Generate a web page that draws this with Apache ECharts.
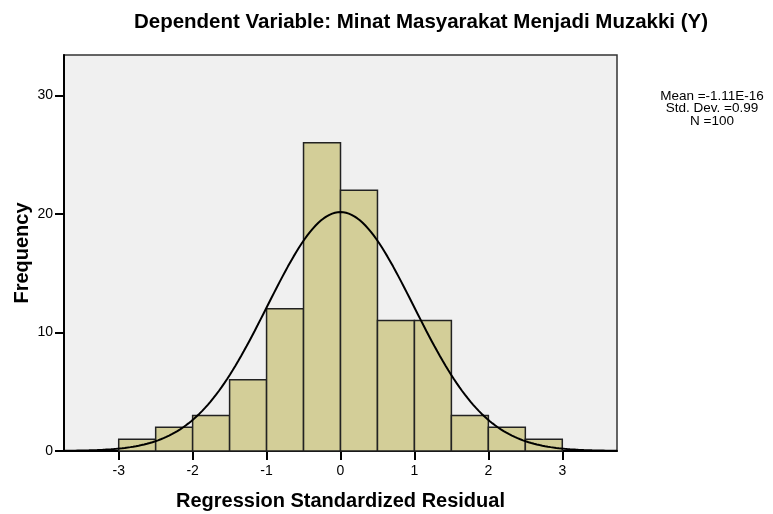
<!DOCTYPE html>
<html lang="en">
<head>
    <meta charset="UTF-8">
    <title>Histogram</title>
</head>
<body style="margin:0;background:#fff;">
    <div id="main" style="width:773px;height:514px;"></div>
    <script src="https://cdn.jsdelivr.net/npm/echarts@6/dist/echarts.min.js"></script>
    <script>
        // bins of the standardized residual (lower edges) and their counts
        var binStart = [-3, -2.5, -2, -1.5, -1, -0.5, 0, 0.5, 1, 1.5, 2, 2.5];
        var binWidth = 0.5;
        var counts = [1, 2, 3, 6, 12, 26, 22, 11, 11, 3, 2, 1];
        var xTicks = [-3, -2, -1, 0, 1, 2, 3];
        var yTicks = [0, 10, 20, 30];
        // summary shown beside the chart
        var statMean = -1.11e-16;
        var statSd = 0.99;
        var statN = 100;
        var xMin = -3.74, xMax = 3.74;

        var barData = [];
        for (var i = 0; i < binStart.length; i++) {
            barData.push([binStart[i], binStart[i] + binWidth, counts[i]]);
        }

        // fitted normal curve from mean / sd / N
        var curve = [];
        for (var k = 0; k <= 200; k++) {
            var x = xMin + (xMax - xMin) * k / 200;
            var z = (x - statMean) / statSd;
            var y = statN * binWidth * Math.exp(-0.5 * z * z) / (statSd * Math.sqrt(2 * Math.PI));
            curve.push([x, y]);
        }

        var myChart = echarts.init(document.getElementById('main'));
        var font = '"Liberation Sans", Arial, sans-serif';
        var option = {
            animation: false,
            textStyle: { fontFamily: font },
            title: [{
                text: 'Dependent Variable: Minat Masyarakat Menjadi Muzakki (Y)',
                left: 416,
                top: 7,
                textAlign: 'center',
                textStyle: { fontSize: 20.5, fontWeight: 'bold', color: '#000', fontFamily: font }
            }, {
                text: 'Mean =-1.11E-16\nStd. Dev. =0.99\nN =100',
                left: 707,
                top: 85,
                textAlign: 'center',
                textStyle: { fontSize: 13.5, fontWeight: 'normal', color: '#000', lineHeight: 12.5, fontFamily: font }
            }],
            grid: {
                left: 64, right: 156, top: 55, bottom: 63,
                outerBoundsMode: 'none',
                containLabel: false,
                show: true,
                backgroundColor: '#f0f0f0',
                borderColor: '#333',
                borderWidth: 1.5
            },
            xAxis: {
                type: 'value',
                min: xMin,
                max: xMax,
                name: 'Regression Standardized Residual',
                nameLocation: 'middle',
                nameGap: 40,
                nameTextStyle: { fontSize: 20, fontWeight: 'bold', color: '#000' },
                splitLine: { show: false },
                axisLine: { onZero: false, lineStyle: { color: '#000', width: 2 } },
                axisTick: { show: true, length: 9, customValues: xTicks, lineStyle: { color: '#000', width: 2 } },
                axisLabel: { customValues: xTicks, color: '#000', fontSize: 14, margin: 13 }
            },
            yAxis: {
                type: 'value',
                min: 0,
                max: 33.4,
                name: 'Frequency',
                nameLocation: 'middle',
                nameGap: 32,
                nameMoveOverlap: false,
                nameTextStyle: { fontSize: 20, fontWeight: 'bold', color: '#000' },
                splitLine: { show: false },
                axisLine: { show: true, onZero: false, lineStyle: { color: '#000', width: 2 } },
                axisTick: { show: true, length: 9, customValues: yTicks, lineStyle: { color: '#000', width: 2 } },
                axisLabel: { customValues: yTicks, color: '#000', fontSize: 14, margin: 11 }
            },
            series: [{
                type: 'custom',
                data: barData,
                renderItem: function (params, api) {
                    var p0 = api.coord([api.value(0), api.value(2)]);
                    var p1 = api.coord([api.value(1), 0]);
                    return {
                        type: 'rect',
                        shape: { x: p0[0], y: p0[1], width: p1[0] - p0[0], height: p1[1] - p0[1] },
                        style: { fill: '#d3ce98', stroke: '#222', lineWidth: 1.5 }
                    };
                }
            }, {
                type: 'line',
                data: curve,
                showSymbol: false,
                smooth: false,
                lineStyle: { color: '#000', width: 2 },
                z: 5
            }]
        };
        myChart.setOption(option);
    </script>
</body>
</html>
